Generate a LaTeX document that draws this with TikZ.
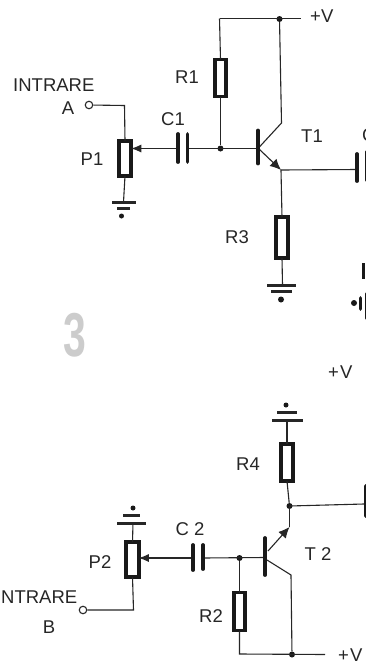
\documentclass[tikz,border=0pt]{standalone}
\usepackage{fontspec}
\setmainfont{Liberation Sans}
\usetikzlibrary{arrows.meta}
\tikzset{
  wire/.style={line width=1.1pt,draw=black!85},
  res/.style={draw=black!90,line width=3.6pt,fill=white,inner sep=0pt,outer sep=0pt,minimum width=11.5pt,minimum height=37pt},
  plate/.style={line width=3.8pt,draw=black!90,line cap=round},
  gbar/.style={line width=3pt,draw=black!85},
  dotn/.style={circle,fill=black!90,inner sep=0pt,minimum size=6pt},
  opn/.style={circle,draw=black!85,line width=1.1pt,fill=white,inner sep=0pt,minimum size=7.5pt},
  lbl/.style={font=\fontsize{18.5}{20}\selectfont,text=black!85,inner sep=0pt},
  wiper/.style={wire,-{Latex[length=10pt,width=8pt]}},
  emit/.style={wire,-{Latex[length=11pt,width=10pt]}}
}
\begin{document}
\begin{tikzpicture}[x=1pt,y=-1pt]
\useasboundingbox (0,0) rectangle (366,662);
\clip (0,0) rectangle (366,662);
\fill[white] (0,0) rectangle (366,662);
% faded mark
\node[lbl,font=\fontsize{62}{64}\selectfont\bfseries,text=black!20,xscale=0.66] (mark) at (75,335) {3};
% top circuit
\node[res] (R1) at (220.5,78) {};
\node[res,minimum height=41pt] (R3) at (282,237.5) {};
\node[res,minimum width=12.5pt,minimum height=35pt] (P1) at (125,158.5) {};
\coordinate (vtopL) at (219.5,18.5);
\node[dotn] (vtopJ) at (279.5,19) {};
\coordinate (vtopR) at (301,18.5);
\node[dotn] (bJ1) at (220.5,148.5) {};
\node[opn] (inA) at (89,105) {};
\coordinate (aCorner) at (124.5,105.5);
\coordinate (c1L) at (177.5,148.5);
\coordinate (c1R) at (187.5,148.5);
\coordinate (t1base) at (258,148.5);
\coordinate (t1col) at (281.5,123);
\coordinate (t1e0) at (259,149);
\coordinate (t1emit) at (281,170);
\coordinate (c3) at (357,169.5);
\coordinate (g1) at (123.5,202);
\coordinate (g3) at (282.5,285);
\draw[wire] (vtopL) -- (vtopR);
\draw[wire] (vtopL) -- (R1.north);
\draw[wire] (R1.south) -- (bJ1);
\draw[wire] (vtopJ) -- (t1col) -- (t1base);
\draw[emit] (t1e0) -- (t1emit);
\draw[wire] (t1emit) -- (c3);
\draw[wire] (t1emit) -- (R3.north);
\draw[wire] (R3.south) -- (g3);
\draw[wire] (c1R) -- (t1base);
\draw[wiper] (c1L) -- (c1L -| P1.east);
\draw[wire] (inA) -- (aCorner) -- (P1.north);
\draw[wire] (P1.south) -- (g1);
\draw[plate] (178,134) -- (178,162);
\draw[plate] (187.5,134) -- (187.5,162);
\draw[plate] (258,130.5) -- (258,163.5);
\draw[plate] (357,154) -- (357,181);
\draw[plate] (367,152) -- (367,180);
\draw[gbar] (112,202) -- (136,202);
\draw[gbar] (117,208.5) -- (130,208.5);
\node[dotn,minimum size=5pt] (g1d) at (121.5,216) {};
\draw[gbar] (267,285) -- (296,285);
\draw[gbar] (271,291) -- (292,291);
\node[dotn] (g3d) at (281,299.5) {};
\draw[line width=3pt,black!90] (363,263) -- (363,279);
\node[dotn] (d9) at (354,303) {};
\draw[plate] (360.5,298) -- (360.5,309);
\draw[plate] (367,294) -- (367,318);
\node[lbl,anchor=west] (tIA) at (13,85) {INTRARE};
\node[lbl] (tA) at (68,108) {A};
\node[lbl] (tP1) at (92,159) {P1};
\node[lbl] (tC1) at (173,119) {C1};
\node[lbl] (tR1) at (187,77) {R1};
\node[lbl] (tT1) at (312,136) {T1};
\node[lbl] (tR3) at (237,237) {R3};
\node[lbl,anchor=west] (tV1) at (310,16) {+V};
\node[lbl,anchor=west] (tC3) at (362,135) {C};
% bottom circuit
\node[res] (R4) at (287,462.5) {};
\node[res,minimum height=38pt] (R2) at (239.5,611.5) {};
\node[res,minimum width=12.5pt,minimum height=35pt] (P2) at (132.5,559.5) {};
\node[dotn] (eJ) at (289.5,506) {};
\coordinate (c4) at (364,504);
\node[dotn] (bJ2) at (239.5,558) {};
\coordinate (c2L) at (193,558);
\coordinate (c2R) at (203,558);
\coordinate (t2base) at (265,557.5);
\coordinate (t2e) at (268,551);
\coordinate (t2eK) at (289.5,527);
\coordinate (t2cK) at (291,575);
\coordinate (t2c0) at (267,560);
\node[dotn] (vbJ) at (292,654.5) {};
\coordinate (vbL) at (239.5,654);
\coordinate (vbR) at (325,654.5);
\node[opn] (inB) at (83,610) {};
\coordinate (bCorner) at (133.5,610);
\coordinate (g4) at (287,420);
\coordinate (g2) at (133,523);
\draw[wire] (g4) -- (R4.north);
\draw[wire] (R4.south) -- (eJ);
\draw[wire] (eJ.center) -- (c4);
\draw[wire] (eJ.center) -- (t2eK);
\draw[emit] (t2e) -- (t2eK);
\draw[wire] (c2R) -- (t2base);
\draw[wire] (bJ2) -- (R2.north);
\draw[wire] (R2.south) -- (vbL) -- (vbR);
\draw[wire] (t2c0) -- (t2cK) -- (vbJ);
\draw[wiper] (c2L) -- (c2L -| P2.east);
\draw[wire] (P2.south) -- (bCorner) -- (inB);
\draw[wire] (g2) -- (P2.north);
\draw[plate] (193,545) -- (193,570);
\draw[plate] (203,545) -- (203,569);
\draw[plate] (265,538) -- (265,575);
\draw[plate] (365.5,486) -- (365.5,516);
\draw[gbar] (272,420) -- (303,420);
\draw[gbar] (277,412.5) -- (297,412.5);
\node[dotn,minimum size=5pt] (g4d) at (286,405) {};
\draw[gbar] (117,523) -- (146,523);
\draw[gbar] (123,515.5) -- (140,515.5);
\node[dotn,minimum size=5pt] (g2d) at (133,508) {};
\node[lbl,anchor=west] (tIB) at (1,597) {NTRARE};
\node[lbl] (tB) at (49,627) {B};
\node[lbl] (tP2) at (100,562) {P2};
\node[lbl] (tC2) at (190,529) {C 2};
\node[lbl] (tR2) at (211,616) {R2};
\node[lbl] (tR4) at (248,464) {R4};
\node[lbl] (tT2) at (318,554) {T 2};
\node[lbl,anchor=west] (tV2) at (328,372) {+\kern1pt V};
\node[lbl,anchor=west] (tV3) at (338,655) {+\kern1pt V};
\end{tikzpicture}
\end{document}
